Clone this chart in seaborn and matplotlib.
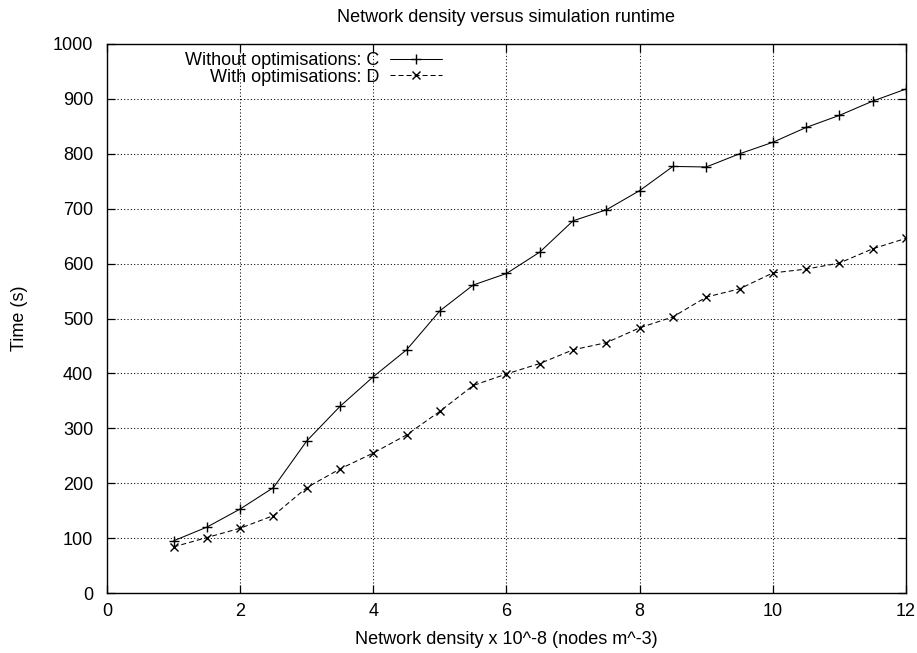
import matplotlib
matplotlib.use("Agg")
import matplotlib.pyplot as plt
import seaborn as sns
import pandas as pd

# ---- data ----
density = [1, 1.5, 2, 2.5, 3, 3.5, 4, 4.5, 5, 5.5, 6, 6.5, 7, 7.5, 8, 8.5, 9, 9.5, 10, 10.5, 11, 11.5, 12]
time_without = [95, 120, 153, 192, 277, 340, 394, 443, 514, 561, 582, 621, 678, 698, 733, 777, 776, 800, 821, 848, 870, 896, 918]
time_with = [84, 101, 118, 141, 192, 226, 255, 288, 331, 378, 399, 418, 443, 456, 483, 503, 539, 554, 583, 590, 601, 627, 646]
label_without = "Without optimisations: C"
label_with = "With optimisations: D"
x_ticks = [0, 2, 4, 6, 8, 10, 12]
y_ticks = [0, 100, 200, 300, 400, 500, 600, 700, 800, 900, 1000]

sns.set_theme(style="white")
plt.rcParams["font.family"] = ["Liberation Sans", "DejaVu Sans"]
plt.rcParams["font.size"] = 13
plt.rcParams["text.color"] = "black"
plt.rcParams["axes.labelcolor"] = "black"
plt.rcParams["xtick.color"] = "black"
plt.rcParams["ytick.color"] = "black"

df_c = pd.DataFrame({"density": density, "time": time_without})
df_d = pd.DataFrame({"density": density, "time": time_with})

fig = plt.figure(figsize=(9.17, 6.53), dpi=100)
ax = fig.add_axes([107 / 917, 1 - 593 / 653, 799 / 917, 549 / 653])

sns.lineplot(data=df_c, x="density", y="time", ax=ax, color="black",
             linewidth=0.75, marker="+", markersize=7, markeredgecolor="black",
             markeredgewidth=1.0, label=label_without, linestyle="-")
sns.lineplot(data=df_d, x="density", y="time", ax=ax, color="black",
             linewidth=0.75, marker="x", markersize=6, markeredgecolor="black",
             markeredgewidth=1.0, label=label_with, linestyle=(0, (4.8, 2.9)))

ax.set_xlim(0, 12)
ax.set_ylim(0, 1000)
ax.set_xticks(x_ticks)
ax.set_yticks(y_ticks)
ax.grid(True, color="black", linestyle=(0, (1, 2.2)), linewidth=0.75)
ax.set_axisbelow(True)

for s in ax.spines.values():
    s.set_color("black")
    s.set_linewidth(1.0)

ax.tick_params(axis="both", which="major", direction="in", length=6, width=0.9,
               top=True, right=True, bottom=True, left=True,
               labelsize=13, colors="black")
ax.tick_params(axis="x", pad=7)
ax.tick_params(axis="y", pad=10)

ax.set_title("Network density versus simulation runtime", fontsize=13, pad=16, color="black")
ax.set_xlabel("Network density x 10^-8 (nodes m^-3)", fontsize=13, labelpad=8, color="black")
ax.set_ylabel("Time (s)", fontsize=13, labelpad=18, color="black")

leg = ax.legend(loc="upper right", bbox_to_anchor=((442 - 107) / 799, 0.985),
                frameon=False, markerfirst=False, borderpad=0, borderaxespad=0,
                handlelength=2.9, handletextpad=0.55, labelspacing=-0.03, fontsize=13)
for t in leg.get_texts():
    t.set_color("black")

fig.savefig("out.png", dpi=100)
